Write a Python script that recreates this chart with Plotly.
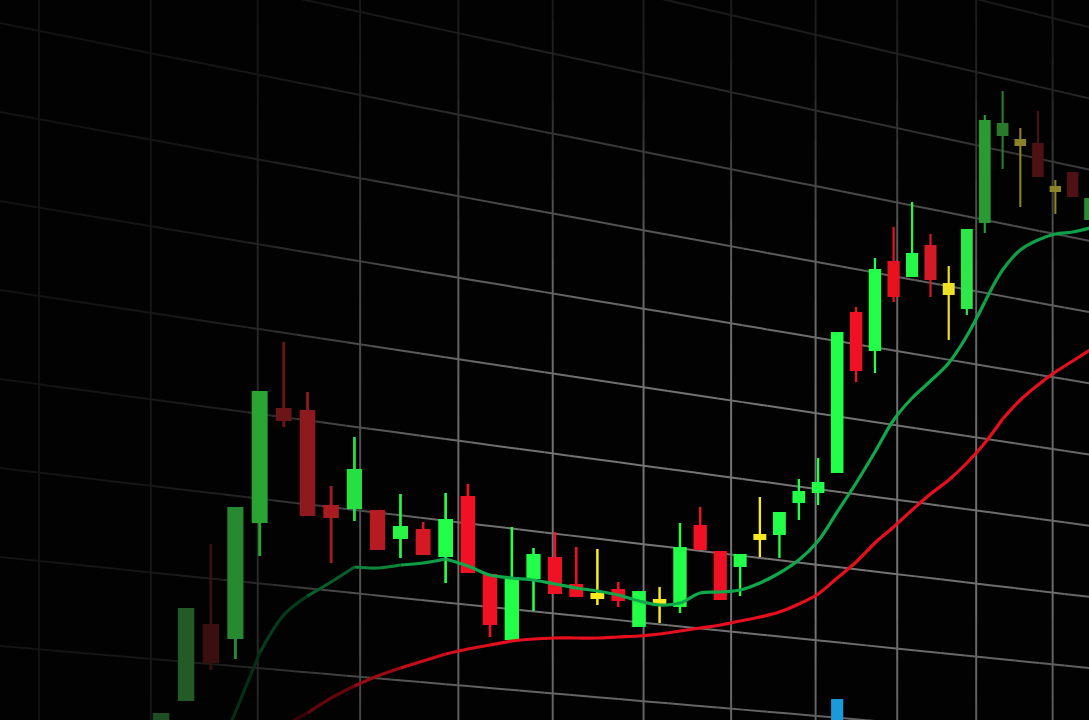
import math
import plotly.graph_objects as go

# ---------------- data (price units) ----------------
days = [96, 97, 98, 99, 100, 101, 102, 103, 104, 105, 106, 107, 108, 109, 110, 111,
        112, 113, 114, 115, 116, 117, 118, 119, 120, 121, 122, 123, 124, 125, 126, 127,
        128, 129, 130, 131, 132, 133, 134, 135, 136, 137, 138, 139, 140, 141]
opens = [-20, 19, 96, 81, 197, 312, 310, 215, 211, 210, 181, 191, 163, 224, 146, 80,
         141, 163, 136, 127, 131, 93, 121, 113, 195, 169, 153, 185, 185, 217, 227, 247,
         408, 369, 459, 443, 475, 437, 411, 497, 584, 581, 577, 534, 548, 500]
closes = [7, 112, 57, 213, 329, 299, 204, 202, 251, 170, 194, 165, 201, 147, 95, 143,
          166, 126, 123, 121, 119, 129, 115, 173, 170, 120, 166, 180, 208, 229, 238, 388,
          349, 451, 423, 467, 440, 425, 491, 600, 597, 574, 543, 528, 523, 522]
highs = [7, 112, 176, 213, 329, 378, 328, 234, 283, 210, 226, 198, 227, 236, 146, 193,
         172, 188, 173, 171, 138, 129, 133, 197, 213, 169, 166, 223, 208, 241, 262, 388,
         413, 462, 493, 518, 486, 454, 491, 605, 629, 592, 609, 540, 548, 522]
lows = [-30, 19, 50, 61, 164, 293, 204, 157, 199, 170, 162, 165, 137, 147, 83, 80,
        109, 126, 123, 115, 113, 93, 97, 107, 170, 120, 124, 163, 162, 200, 215, 247,
        338, 347, 418, 443, 423, 380, 405, 487, 551, 513, 543, 506, 523, 500]
ma_fast = [None, None, -50, 8, 67, 105, 124, 138, 153, 152, 155, 157, 161, 154, 145, 142,
           140, 136, 132, 129, 125, 119, 115, 117, 127, 128, 130, 137, 147, 160, 179, 208,
           237, 268, 300, 322, 339, 357, 384, 418, 450, 470, 480, 486, 488, 492]
ma_slow = [None, None, None, None, -40, -8, 7, 22, 34, 44, 52, 59, 66, 71, 75, 79,
           81, 82, 82, 82, 83, 84, 86, 89, 92, 95, 99, 103, 108, 116, 126, 142,
           158, 177, 193, 210, 226, 240, 257, 277, 301, 320, 335, 348, 359, 370]
vol_day = [127]
vol_val = [21]

# ---------------- styles ----------------
candle_colors = ["#1f4f22", "#235a26", "#3a0f10", "#288a30", "#28a533", "#6a1518", "#8c1a1e",
                 "#a81c22", "#26e042", "#b81a22", "#26f545", "#d41824", "#22ff48", "#f01224",
                 "#f01224", "#22ff48", "#22ff48", "#f01224", "#f01224", "#f8ea1e", "#f01224",
                 "#22ff48", "#f8ea1e", "#22ff48", "#f01224", "#f01224", "#22ff48", "#f8ea1e",
                 "#22ff48", "#22ff48", "#22ff48", "#22ff48", "#f01224", "#22ff48", "#e8121f",
                 "#26f848", "#d41a24", "#ece024", "#2ee84a", "#2a9a34", "#2a7a2c", "#8c8228",
                 "#4e1214", "#8c8228", "#4e1214", "#2a8a30"]

W, H = 1089, 720
L0, L1 = math.log10(89.81), math.log10(140.95)


def px_of(x):
    return W * (math.log10(x) - L0) / (L1 - L0)


def sig(z):
    return 1.0 / (1.0 + math.exp(-z))


def grid_gray(px, py):
    sx = sig((px - 330) / 60)
    sy = sig((py - 180) / 70)
    r = 1 - 0.15 * min(max((px - 850) / 240, 0), 1)
    b = 1 - 0.2 * min(max((py - 600) / 120, 0), 1)
    v = int(19 + 100 * sx * sy * r * b)
    return f"rgb({v},{v},{v})"


def scale_hex(hexcol, f):
    r, g, b = (int(hexcol[i:i + 2], 16) for i in (1, 3, 5))
    return f"rgb({int(r * f)},{int(g * f)},{int(b * f)})"


# ---------------- perspective grid ----------------
shapes = []
VX, VY = 5450.0, 1113.0
hgrid_y0 = [-244 + 89 * k for k in range(11)]
for y0 in hgrid_y0:
    s = (VY - y0) / VX
    n = 44
    for j in range(n):
        xa, xb = W * j / n, W * (j + 1) / n
        ya, yb = y0 + s * xa, y0 + s * xb
        if max(ya, yb) < -5 or min(ya, yb) > H + 5:
            continue
        shapes.append(dict(type="line", xref="paper", yref="paper",
                           x0=xa / W, x1=xb / W, y0=1 - ya / H, y1=1 - yb / H,
                           line=dict(color=grid_gray((xa + xb) / 2, (ya + yb) / 2), width=2),
                           layer="below"))

grid_x = [91.27 + 4.325 * j for j in range(12)]
for gx in grid_x:
    p = px_of(gx)
    n = 36
    for j in range(n):
        ya, yb = H * j / n, H * (j + 1) / n
        shapes.append(dict(type="line", xref="paper", yref="paper",
                           x0=p / W, x1=p / W, y0=1 - ya / H, y1=1 - yb / H,
                           line=dict(color=grid_gray(p, (ya + yb) / 2), width=2),
                           layer="below"))

fig = go.Figure()


# ---------------- moving averages (chunked splines for the fade) ----------------
def add_ma(values, base, lo, center, scale, bright_from, top_from):
    idx = [i for i, v in enumerate(values) if v is not None]
    chunks = []
    i = idx[0]
    last = idx[-1]
    while px_of(days[i]) < bright_from and i < last:
        j = min(i + 2, last)
        chunks.append(list(range(i, j + 1)))
        i = j
    split = next(k for k in range(i, last + 1) if px_of(days[k]) >= top_from)
    if split > i:
        chunks.append(list(range(i, split + 1)))
    chunks.append(list(range(split, last + 1)))
    for ch in chunks:
        pm = sum(px_of(days[k]) for k in ch) / len(ch)
        ym = H - sum(values[k] for k in ch) / len(ch)
        f = lo + (1 - lo) * sig((pm - center) / scale)
        f *= 0.7 + 0.3 * sig((ym - 170) / 60)
        fig.add_trace(go.Scatter(x=[days[k] for k in ch], y=[values[k] for k in ch],
                                 mode="lines",
                                 line=dict(color=scale_hex(base, min(f, 1)), width=3.2,
                                           shape="spline", smoothing=1.0),
                                 hoverinfo="skip"))


add_ma(ma_slow, "#e8101e", 0.15, 360, 40, 470, 1000)
add_ma(ma_fast, "#10aa4c", 0.25, 345, 35, 430, 980)

# ---------------- candles ----------------
wick_base = list(lows)
wick_len = [h - l for h, l in zip(highs, lows)]
body_base = [min(o, c) for o, c in zip(opens, closes)]
body_len = [max(abs(c - o), 6) for o, c in zip(opens, closes)]

fig.add_trace(go.Bar(x=days, y=wick_len, base=wick_base, width=0.12,
                     marker=dict(color=candle_colors, line=dict(width=0)), hoverinfo="skip"))
fig.add_trace(go.Bar(x=days, y=body_len, base=body_base, width=0.66,
                     marker=dict(color=candle_colors, line=dict(width=0)), hoverinfo="skip"))
fig.add_trace(go.Bar(x=vol_day, y=vol_val, base=[0], width=0.64,
                     marker=dict(color="#1a9ad8", line=dict(width=0)), hoverinfo="skip"))

fig.update_layout(
    width=W, height=H,
    margin=dict(l=0, r=0, t=0, b=0, pad=0),
    paper_bgcolor="#020202", plot_bgcolor="#020202",
    barmode="overlay", showlegend=False, hovermode=False,
    shapes=shapes,
    xaxis=dict(type="log", range=[L0, L1], visible=False, showgrid=False, zeroline=False),
    yaxis=dict(range=[0, 720], visible=False, showgrid=False, zeroline=False),
)

fig.write_html("out.html", config={"displayModeBar": False})
